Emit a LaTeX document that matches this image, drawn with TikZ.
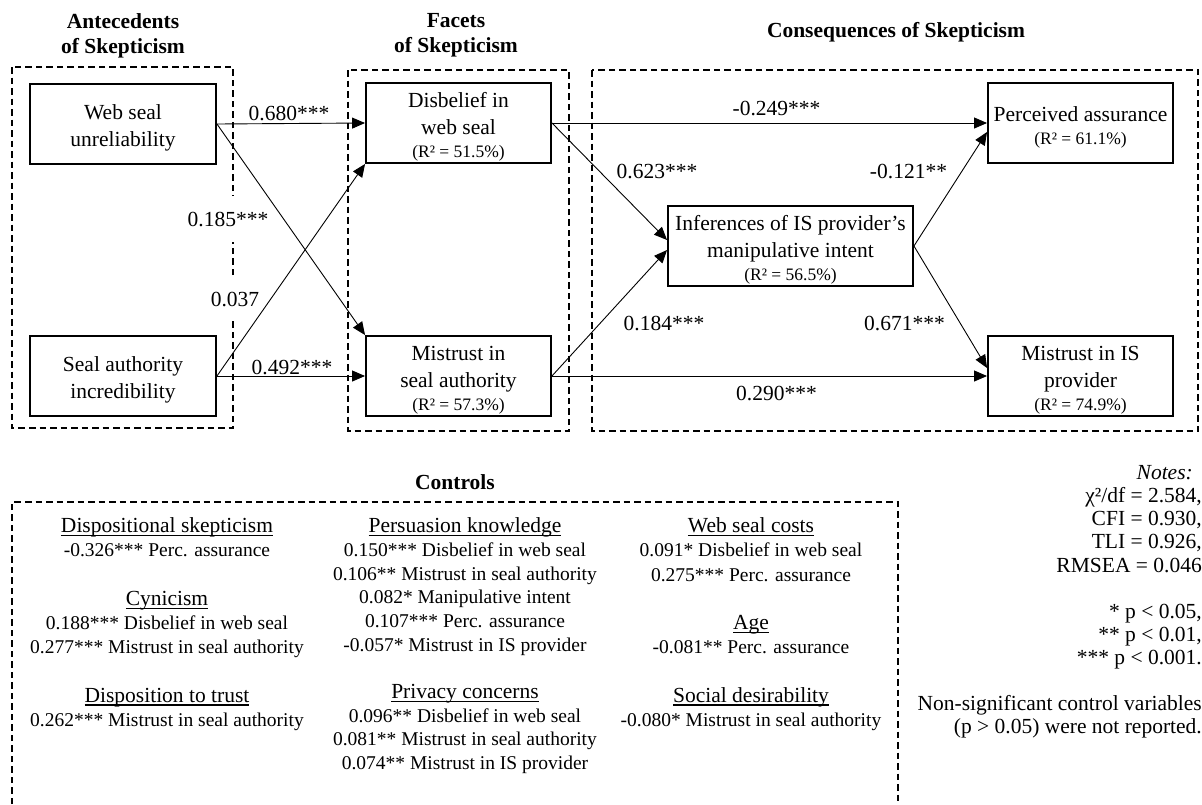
\documentclass[tikz,border=0pt]{standalone}
\usepackage{fontspec}
\setmainfont{Liberation Serif}
\usetikzlibrary{arrows.meta,calc}
\newcommand{\rsq}[1]{{\fontsize{17.5}{20}\selectfont #1}}
\newcommand{\ulx}[1]{\setbox0\hbox{#1}\rlap{\rule[-3.6pt]{\wd0}{1.3pt}}\box0}
\newcommand{\hd}[1]{{\fontsize{21.5}{24}\selectfont\ulx{#1}}}
\newcommand{\tp}{\rule{0pt}{23pt}}
\begin{document}
\begin{tikzpicture}[x=1pt,y=-1pt,
  box/.style={draw,line width=1.9pt,minimum width=185pt,minimum height=80pt,inner sep=0pt,align=center,font=\fontsize{21.5}{27}\selectfont},
  grp/.style={draw,line width=1.6pt,dash pattern=on 6.5pt off 4pt},
  arr/.style={line width=0.9pt,-{Triangle[length=13pt,width=11pt]}},
  lbl/.style={font=\fontsize{21.5}{24}\selectfont,inner sep=1pt},
  wlbl/.style={lbl,fill=white,inner xsep=2pt},
  ttl/.style={font=\bfseries\fontsize{21.5}{25}\selectfont,align=center,inner sep=0pt},
  ctrl/.style={font=\fontsize{19.5}{24.2}\selectfont,align=center,inner sep=0pt,anchor=north},
  notes/.style={font=\fontsize{21.5}{23.2}\selectfont,align=right,inner sep=0pt,anchor=north east}]
\useasboundingbox (0,0) rectangle (1202,804);

% titles
\node[ttl,anchor=north] (tant) at (123,13) {Antecedents\\of Skepticism};
\node[ttl,anchor=north] (tfac) at (456,13) {Facets\\of Skepticism};
\node[ttl,anchor=base] (tcon) at (896,37) {Consequences of Skepticism};
\node[ttl,anchor=base] (tctl) at (455,489) {Controls};

% group boxes
\draw[grp] (12,67) rectangle (233,428);
\draw[grp] (348,70) rectangle (569,431);
\draw[grp] (592,70) rectangle (1198,431);
\draw[grp] (12,804) -- (12,502) -- (898,502) -- (898,804);

% labels
\node[lbl] (l1) at (289,113) {0.680***};
\node[lbl] (l2) at (292,367) {0.492***};
\node[wlbl,minimum height=46pt] (l3) at (228,219) {0.185***};
\node[wlbl,minimum height=44pt] (l4) at (235,299) {0.037};
\node[lbl] (l5) at (776.5,108.5) {-0.249***};
\node[lbl] (l6) at (657,171.5) {0.623***};
\node[lbl] (l7) at (664,323.5) {0.184***};
\node[lbl] (l8) at (776.5,393.5) {0.290***};
\node[lbl] (l9) at (908.5,171.5) {-0.121**};
\node[lbl] (l10) at (904.5,323.5) {0.671***};

% construct boxes
\node[box,minimum width=186pt] (wsu) at (123,124) {\tp Web seal\\unreliability};
\node[box,minimum width=186pt] (sai) at (123,376) {\tp Seal authority\\incredibility};
\node[box] (dis) at (458.5,123) {\tp Disbelief in\\web seal\\[-4pt]\rsq{(R² = 51.5\%)}};
\node[box] (msa) at (458.5,376) {\tp Mistrust in\\seal authority\\[-4pt]\rsq{(R² = 57.3\%)}};
\node[box,minimum width=245pt] (inf) at (790.5,246) {\tp Inferences of IS provider’s\\manipulative intent\\[-4pt]\rsq{(R² = 56.5\%)}};
\node[box] (pa) at (1080.5,123) {\tp Perceived assurance\\[-4pt]\rsq{(R² = 61.1\%)}};
\node[box] (mip) at (1080.5,376) {\tp Mistrust in IS\\provider\\[-4pt]\rsq{(R² = 74.9\%)}};

% arrows
\draw[arr] (wsu.east) -- (dis.west);
\draw[arr] (sai.east) -- (msa.west);
\draw[arr] (wsu.east) -- (msa.north west);
\draw[arr] (sai.east) -- (dis.south west);
\draw[arr] (dis.east) -- (pa.west);
\draw[arr] (msa.east) -- (mip.west);
\draw[arr] (dis.east) -- ($(inf.west)+(0,-6)$);
\draw[arr] (msa.east) -- ($(inf.west)+(0,4)$);
\draw[arr] (inf.east) -- ($(pa.west)+(0,9)$);
\draw[arr] (inf.east) -- ($(mip.west)+(0,-8)$);

% controls
\node[ctrl] (c1) at (167,517.5) {\hd{Dispositional skepticism}\\
-0.326*** Perc. assurance\\[24.2pt]
\hd{Cynicism}\\
0.188*** Disbelief in web seal\\
0.277*** Mistrust in seal authority\\[24.2pt]
\hd{Disposition to trust}\\
0.262*** Mistrust in seal authority};
\node[ctrl,font=\fontsize{19.5}{23.7}\selectfont] (c2) at (465,517.5) {\hd{Persuasion knowledge}\\
0.150*** Disbelief in web seal\\
0.106** Mistrust in seal authority\\
0.082* Manipulative intent\\
0.107*** Perc. assurance\\
-0.057* Mistrust in IS provider\\[23.7pt]
\hd{Privacy concerns}\\
0.096** Disbelief in web seal\\
0.081** Mistrust in seal authority\\
0.074** Mistrust in IS provider};
\node[ctrl] (c3) at (751,517.5) {\hd{Web seal costs}\\
0.091* Disbelief in web seal\\
0.275*** Perc. assurance\\[24.2pt]
\hd{Age}\\
-0.081** Perc. assurance\\[24.2pt]
\hd{Social desirability}\\
-0.080* Mistrust in seal authority};

% notes
\node[notes] (nt) at (1202,465) {\textit{Notes:}\hspace*{9pt}\\
χ²/df = 2.584,\\
CFI = 0.930,\hspace*{5pt}\\
TLI = 0.926,\\
RMSEA = 0.046\\[23.2pt]
* p < 0.05,\\
** p < 0.01,\\
*** p < 0.001.\\[22pt]
Non-significant control variables\\
(p > 0.05) were not reported.};
\end{tikzpicture}
\end{document}
